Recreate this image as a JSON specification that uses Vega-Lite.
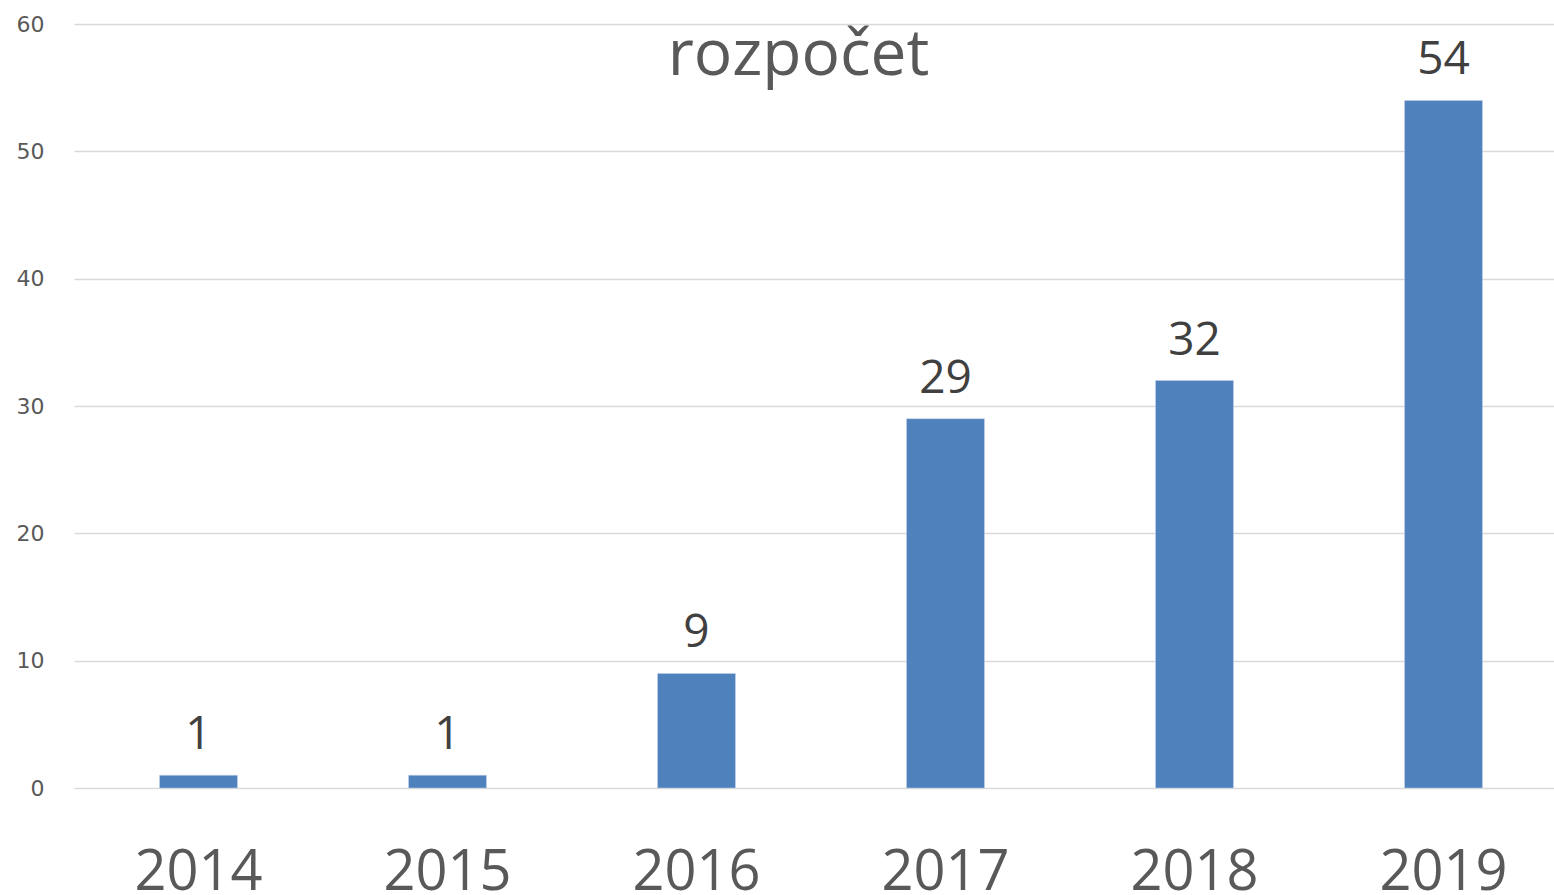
{
  "$schema": "https://vega.github.io/schema/vega-lite/v6.json",
  "autosize": "none",
  "width": 1481,
  "height": 764,
  "padding": {"left": 73, "top": 24, "right": 0, "bottom": 107},
  "background": "white",
  "config": {"view": {"stroke": null}},
  "title": {
    "text": "rozpočet",
    "orient": "top",
    "anchor": "middle",
    "frame": "group",
    "baseline": "alphabetic",
    "offset": -126,
    "dx": -15,
    "font": "Open Sans",
    "fontSize": 64,
    "fontWeight": "normal",
    "color": "#595959"
  },
  "data": {
    "values": [
      {"year": "2014", "value": 1},
      {"year": "2015", "value": 1},
      {"year": "2016", "value": 9},
      {"year": "2017", "value": 29},
      {"year": "2018", "value": 32},
      {"year": "2019", "value": 54}
    ]
  },
  "encoding": {
    "x": {
      "field": "year",
      "type": "nominal",
      "sort": null,
      "scale": {"range": [1, 1495], "paddingInner": 0.687, "paddingOuter": 0.3435},
      "axis": {
        "title": null,
        "labelAngle": 0,
        "domain": false,
        "ticks": false,
        "labelFont": "Open Sans",
        "labelFontSize": 56,
        "labelColor": "#595959",
        "labelPadding": 57,
        "labelBaseline": "top"
      }
    }
  },
  "layer": [
    {
      "mark": {"type": "bar", "color": "#4f81bd", "stroke": "#c6d4ea", "strokeWidth": 0.5},
      "encoding": {
        "y": {
          "field": "value",
          "type": "quantitative",
          "scale": {"domain": [0, 60], "nice": false},
          "axis": {
            "title": null,
            "values": [0, 10, 20, 30, 40, 50, 60],
            "domain": false,
            "ticks": false,
            "grid": true,
            "gridColor": "#d9d9d9",
            "gridWidth": 1.5,
            "labelFont": "DejaVu Sans",
            "labelFontSize": 22,
            "labelColor": "#595959",
            "labelPadding": 29
          }
        }
      }
    },
    {
      "mark": {
        "type": "text",
        "font": "Open Sans",
        "fontSize": 46,
        "color": "#404040",
        "baseline": "alphabetic",
        "dy": -26
      },
      "encoding": {
        "y": {"field": "value", "type": "quantitative"},
        "text": {"field": "value", "type": "quantitative"}
      }
    }
  ]
}
